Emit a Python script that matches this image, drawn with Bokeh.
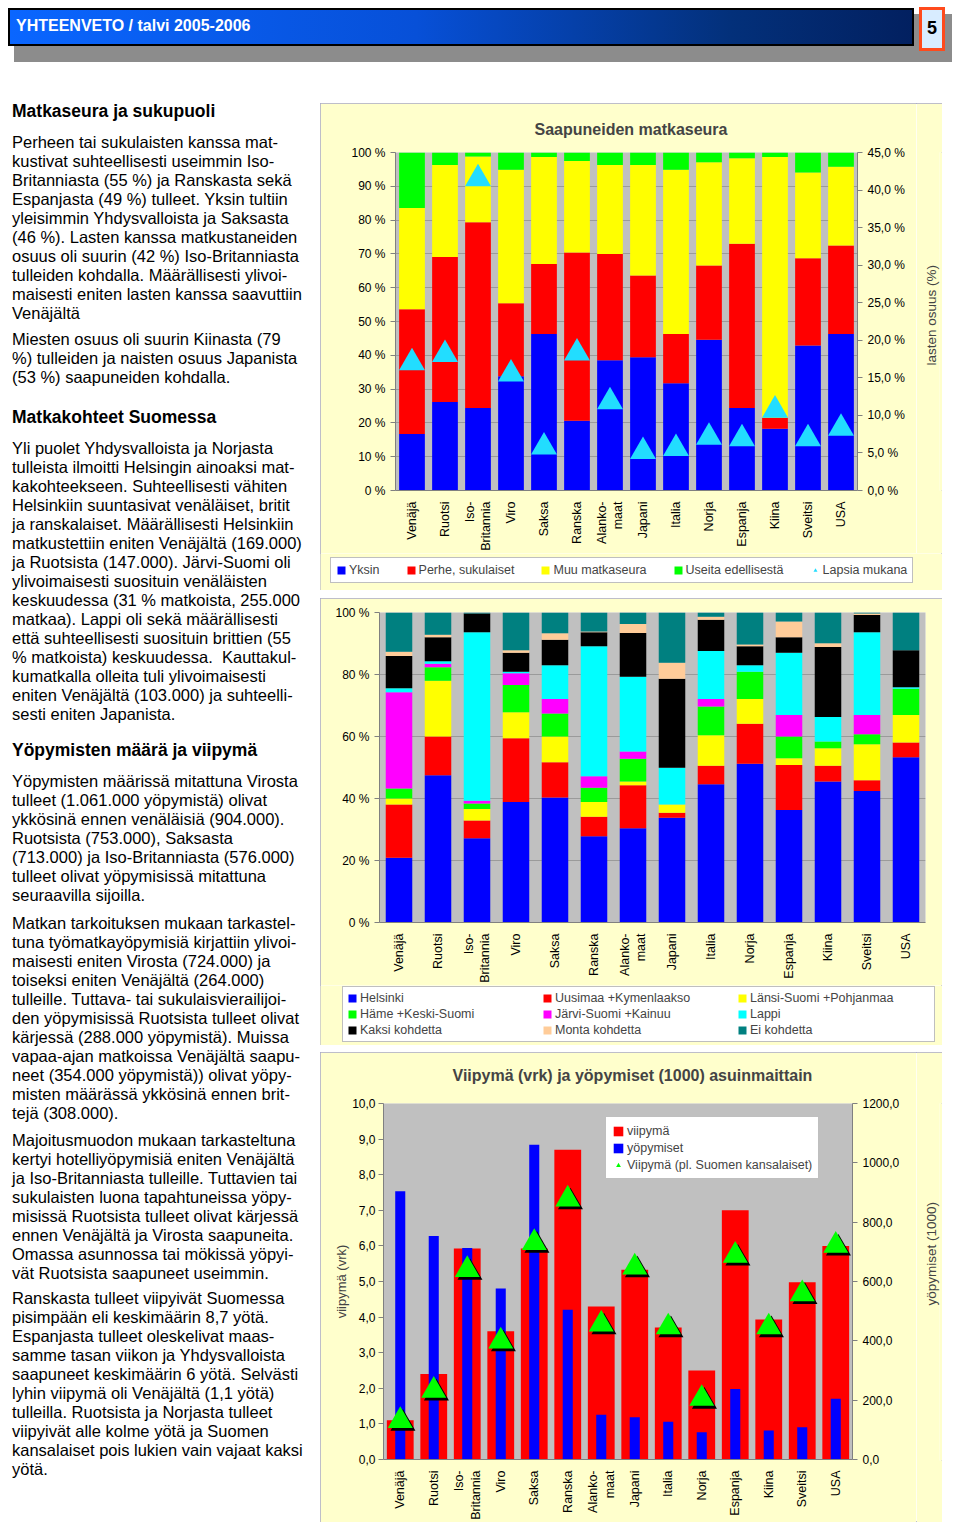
import math
from bokeh.plotting import figure
from bokeh.models import (Range1d, LinearAxis, FixedTicker, CustomJSTickFormatter,
                          Legend, LegendItem, Div, Spacer, ColumnDataSource, FactorRange, Title)
from bokeh.layouts import column, row
from bokeh.transform import dodge
from bokeh.embed import file_html
from bokeh.resources import INLINE

FONT = "Liberation Sans"

countries = ["Venäjä", "Ruotsi", "Iso-\nBritannia", "Viro", "Saksa", "Ranska",
             "Alanko-\nmaat", "Japani", "Italia", "Norja", "Espanja", "Kiina",
             "Sveitsi", "USA"]

# ---- Chart 1: Saapuneiden matkaseura (%) ----
c1_names = ["Yksin", "Perhe, sukulaiset", "Muu matkaseura", "Useita edellisestä"]
c1_yksin = [16.7, 26.2, 24.4, 33.8, 46.3, 20.6, 38.5, 39.4, 31.7, 44.6, 24.4, 18.3, 42.9, 46.3]
c1_perhe = [36.9, 42.9, 55.0, 21.6, 20.7, 49.8, 31.5, 24.2, 14.6, 22.0, 48.6, 3.2, 25.8, 26.2]
c1_muu = [30.0, 27.2, 19.4, 39.5, 31.7, 27.1, 26.3, 32.7, 48.6, 30.5, 25.3, 77.2, 25.4, 23.3]
c1_useita = [16.4, 3.7, 1.2, 5.1, 1.3, 2.5, 3.7, 3.7, 5.1, 2.9, 1.7, 1.3, 5.9, 4.2]
c1_lapsia = [17.0, 18.1, 41.5, 15.5, 5.8, 18.3, 11.8, 5.2, 5.6, 7.1, 6.9, 10.7, 6.9, 8.3]
c1_left_ticks = [0, 10, 20, 30, 40, 50, 60, 70, 80, 90, 100]
c1_right_ticks = [0, 5, 10, 15, 20, 25, 30, 35, 40, 45]

# ---- Chart 2: Matkakohteet (%) ----
c2_names = ["Helsinki", "Uusimaa +Kymenlaakso", "Länsi-Suomi +Pohjanmaa",
            "Häme +Keski-Suomi", "Järvi-Suomi +Kainuu", "Lappi",
            "Kaksi kohdetta", "Monta kohdetta", "Ei kohdetta"]
c2_helsinki = [20.9, 47.5, 27.2, 38.9, 40.3, 27.8, 30.4, 33.8, 44.6, 51.2, 36.3, 45.5, 42.4, 53.3]
c2_uusimaa = [17.2, 12.5, 5.7, 20.5, 11.4, 6.3, 13.9, 1.6, 6.0, 12.9, 14.5, 5.1, 3.5, 4.8]
c2_lansi = [1.9, 18.0, 3.7, 8.4, 8.3, 4.8, 1.2, 2.7, 9.8, 8.0, 2.2, 5.6, 11.6, 8.8]
c2_hame = [3.2, 4.3, 1.8, 8.8, 7.4, 4.6, 7.3, 0.0, 9.3, 8.8, 7.0, 2.2, 3.2, 8.5]
c2_jarvi = [31.1, 1.2, 0.9, 3.8, 4.7, 3.7, 2.4, 0.0, 2.4, 0.0, 6.9, 0.0, 6.2, 0.0]
c2_lappi = [1.3, 0.8, 54.3, 0.5, 10.9, 41.9, 24.1, 11.8, 15.5, 2.1, 20.1, 7.9, 26.7, 0.5]
c2_kaksi = [10.4, 7.7, 6.1, 6.1, 8.2, 4.5, 14.1, 28.7, 10.1, 6.1, 5.0, 22.6, 5.6, 11.9]
c2_monta = [1.3, 0.8, 0.0, 0.8, 2.1, 0.3, 2.9, 5.2, 0.9, 0.6, 5.1, 1.2, 0.5, 0.0]
c2_ei = [12.7, 7.2, 0.3, 12.2, 6.7, 6.1, 3.7, 16.2, 1.4, 10.3, 2.9, 9.9, 0.3, 12.2]
c2_ticks = [0, 20, 40, 60, 80, 100]

# ---- Chart 3: Viipymä (vrk) ja yöpymiset (1000) ----
c3_viipyma = [1.1, 2.4, 5.93, 3.6, 5.93, 8.7, 4.3, 5.33, 3.71, 2.5, 7.0, 3.93, 4.98, 6.0]
c3_yopymiset = [904, 753, 713, 576, 1061, 505, 151, 142, 127, 92, 238, 98, 109, 205]
c3_viipyma_pl = [1.09, 1.94, 5.33, 3.32, 6.09, 7.31, 3.80, 5.40, 3.72, 1.71, 5.73, 3.72, 4.65, 6.01]
c3_left_ticks = [0, 1, 2, 3, 4, 5, 6, 7, 8, 9, 10]
c3_right_ticks = [0, 200, 400, 600, 800, 1000, 1200]

C_BLUE, C_RED, C_YEL, C_GRN = "#0000FF", "#FF0000", "#FFFF00", "#00FF00"
C_MAG, C_CYAN, C_BLK, C_PEACH, C_TEAL = "#FF00FF", "#00FFFF", "#000000", "#FFCC99", "#008080"
C_TRI = "#22DDFF"
BG_BOX = "#FFFFCC"

BOX_STYLE = {"outline": "1px solid #A8A8C8", "outline-offset": "-1px"}


def pct_fmt():
    return CustomJSTickFormatter(code="return tick.toFixed(0) + ' %';")


def comma_fmt(suffix=""):
    return CustomJSTickFormatter(code="return tick.toFixed(1).replace('.', ',') + '%s';" % suffix)


def style_axis(ax, size="12px"):
    ax.major_label_text_font = FONT
    ax.major_label_text_font_size = size
    ax.major_label_text_color = "black"
    ax.axis_line_color = "#808080"
    ax.major_tick_line_color = "#808080"
    ax.minor_tick_line_color = None
    ax.major_tick_out = 5
    ax.major_tick_in = 0
    ax.axis_label_text_font = FONT
    ax.axis_label_text_font_size = "13.5px"
    ax.axis_label_text_font_style = "normal"


def base_fig(width, height, mbl, mbr, mbt, mbb, y_range, styles=None):
    kw = dict(styles=styles) if styles else {}
    p = figure(width=width, height=height, x_range=FactorRange(factors=countries),
               y_range=y_range, output_backend="svg", toolbar_location=None,
               min_border_left=mbl, min_border_right=mbr, min_border_top=mbt,
               min_border_bottom=mbb, **kw)
    p.frame_align = False
    p.background_fill_color = "#C0C0C0"
    p.border_fill_color = BG_BOX
    p.outline_line_color = None
    p.xgrid.visible = False
    xa = p.xaxis[0]
    style_axis(xa, "12.5px")
    xa.major_label_orientation = math.pi / 2
    xa.major_tick_line_color = None
    xa.major_label_standoff = 6
    style_axis(p.yaxis[0], "12px")
    return p


def legend_fig(width, height):
    # a strip below a chart that only carries that chart's legend
    f = figure(width=width, height=height, x_range=FactorRange(factors=countries),
               y_range=Range1d(0, 1), output_backend="svg", toolbar_location=None,
               x_axis_type=None, y_axis_type=None, min_border=0)
    f.frame_align = False
    f.background_fill_color = BG_BOX
    f.border_fill_color = BG_BOX
    f.outline_line_color = None
    f.grid.visible = False
    return f


def label_strip(height, mbt, mbb, text, offset):
    # narrow strip right of a chart carrying the secondary-axis title (reads bottom-to-top)
    f = figure(width=26, height=height, x_range=Range1d(0, 1), y_range=Range1d(0, 1),
               output_backend="svg", toolbar_location=None, x_axis_type=None,
               y_axis_type=None, min_border_left=23, min_border_right=0,
               min_border_top=mbt, min_border_bottom=mbb, title_location="left")
    f.frame_align = False
    f.background_fill_color = BG_BOX
    f.border_fill_color = BG_BOX
    f.outline_line_color = None
    f.grid.visible = False
    f.title.text = text
    f.title.align = "left"
    f.title.offset = offset
    f.title.standoff = 2
    f.title.text_font = FONT
    f.title.text_font_size = "13.5px"
    f.title.text_font_style = "normal"
    return f


def add_title(p, text, spacer_standoff, offset):
    p.title.text = text
    p.title.align = "left"
    p.title.offset = offset
    p.title.standoff = 2
    p.title.text_font = FONT
    p.title.text_font_size = "16px"
    p.title.text_font_style = "bold"
    p.add_layout(Title(text=" ", text_font_size="6px", standoff=spacer_standoff), "above")


def style_legend(leg, fs="12.5px"):
    leg.background_fill_color = "white"
    leg.background_fill_alpha = 1
    leg.border_line_color = "#808080"
    leg.border_line_width = 1
    leg.label_text_font = FONT
    leg.label_text_font_size = fs
    leg.glyph_width = 10
    leg.glyph_height = 10
    leg.label_standoff = 3
    leg.margin = 0


# ================= Chart 1 =================
src1 = ColumnDataSource(dict(cat=countries, yksin=c1_yksin, perhe=c1_perhe, muu=c1_muu,
                             useita=c1_useita, lapsia=c1_lapsia))
p1 = base_fig(596, 450, 75, 59, 49, 63, Range1d(0, 100))
p1.yaxis[0].ticker = FixedTicker(ticks=c1_left_ticks)
p1.yaxis[0].formatter = pct_fmt()
p1.ygrid.ticker = FixedTicker(ticks=c1_left_ticks)
p1.ygrid.grid_line_color = "#9A9A9A"
add_title(p1, "Saapuneiden matkaseura", 6, 139)

c1_cols = ["yksin", "perhe", "muu", "useita"]
c1_colors = [C_BLUE, C_RED, C_YEL, C_GRN]
p1.vbar_stack(c1_cols, x="cat", width=0.78, fill_color=c1_colors, line_color=None, source=src1)
p1.extra_y_ranges = {"lap": Range1d(0, 45)}
p1.scatter(x="cat", y="lapsia", y_range_name="lap", marker="triangle", size=26,
           fill_color=C_TRI, line_color=None, source=src1)
rax1 = LinearAxis(y_range_name="lap", ticker=FixedTicker(ticks=c1_right_ticks),
                  formatter=comma_fmt(" %"))
style_axis(rax1, "12px")
p1.add_layout(rax1, "right")
s1 = label_strip(450, 49, 63, "lasten osuus (%)", 125)

L1 = legend_fig(622, 37)
lr1 = L1.vbar_stack(c1_cols, x="cat", width=0.78, fill_color=c1_colors, line_color=None,
                    source=src1, visible=False)
lt1 = L1.scatter(x="cat", y="lapsia", marker="triangle", size=26, fill_color=C_TRI,
                 line_color=None, source=src1, visible=False)
leg1 = Legend(items=[LegendItem(label=n, renderers=[r]) for n, r in zip(c1_names, lr1)]
              + [LegendItem(label="Lapsia mukana", renderers=[lt1])],
              location=(10, 7), orientation="horizontal")
style_legend(leg1)
leg1.padding = 5
leg1.spacing = 26
leg1.label_height = 13
L1.add_layout(leg1)
box1 = column(row(p1, s1), L1, styles=BOX_STYLE)

# ================= Chart 2 =================
src2 = ColumnDataSource(dict(cat=countries, helsinki=c2_helsinki, uusimaa=c2_uusimaa,
                             lansi=c2_lansi, hame=c2_hame, jarvi=c2_jarvi, lappi=c2_lappi,
                             kaksi=c2_kaksi, monta=c2_monta, ei=c2_ei))
p2 = base_fig(622, 387, 59, 17, 14, 60, Range1d(0, 100))
p2.yaxis[0].ticker = FixedTicker(ticks=c2_ticks)
p2.yaxis[0].formatter = pct_fmt()
p2.ygrid.ticker = FixedTicker(ticks=c2_ticks)
p2.ygrid.grid_line_color = "#9A9A9A"
c2_cols = ["helsinki", "uusimaa", "lansi", "hame", "jarvi", "lappi", "kaksi", "monta", "ei"]
c2_colors = [C_BLUE, C_RED, C_YEL, C_GRN, C_MAG, C_CYAN, C_BLK, C_PEACH, C_TEAL]
p2.vbar_stack(c2_cols, x="cat", width=0.68, fill_color=c2_colors, line_color=None, source=src2)

L2 = legend_fig(622, 60)
lr2 = L2.vbar_stack(c2_cols, x="cat", width=0.68, fill_color=c2_colors, line_color=None,
                    source=src2, visible=False)
leg2 = Legend(items=[LegendItem(label=n, renderers=[r]) for n, r in zip(c2_names, lr2)],
              location=(22, 3), orientation="horizontal", ncols=3)
style_legend(leg2, "12.5px")
leg2.padding = 4
leg2.spacing = 2
leg2.label_height = 14
leg2.label_width = 180
L2.add_layout(leg2)
box2 = column(p2, L2, styles=BOX_STYLE)

# ================= Chart 3 =================
src3 = ColumnDataSource(dict(cat=countries, viipyma=c3_viipyma, yop=c3_yopymiset,
                             vpl=c3_viipyma_pl))
p3 = base_fig(596, 470, 63, 64, 51, 62, Range1d(0, 10))
p3.yaxis[0].ticker = FixedTicker(ticks=c3_left_ticks)
p3.yaxis[0].formatter = comma_fmt()
p3.yaxis[0].axis_label = "viipymä (vrk)"
p3.yaxis[0].axis_label_text_font_size = "13px"
p3.yaxis[0].axis_label_standoff = 0
p3.yaxis[0].major_label_standoff = 3
p3.ygrid.visible = False
add_title(p3, "Viipymä (vrk) ja yöpymiset (1000) asuinmaittain", 11, 69)

r_red = p3.vbar(x="cat", top="viipyma", width=0.8, fill_color=C_RED, line_color=None, source=src3)
p3.extra_y_ranges = {"yop": Range1d(0, 1200)}
r_blue = p3.vbar(x="cat", top="yop", width=0.3, y_range_name="yop", fill_color=C_BLUE,
                 line_color=None, source=src3)
p3.scatter(x=dodge("cat", 0.08, range=p3.x_range), y=dodge("vpl", -0.08), marker="triangle",
           size=25, fill_color="black", line_color=None, source=src3)
r_tri = p3.scatter(x="cat", y="vpl", marker="triangle", size=25, fill_color=C_GRN,
                   line_color=None, source=src3)
rax3 = LinearAxis(y_range_name="yop", ticker=FixedTicker(ticks=c3_right_ticks),
                  formatter=comma_fmt())
style_axis(rax3, "12px")
p3.add_layout(rax3, "right")
leg3 = Legend(items=[LegendItem(label="viipymä", renderers=[r_red]),
                     LegendItem(label="yöpymiset", renderers=[r_blue]),
                     LegendItem(label="Viipymä (pl. Suomen kansalaiset)", renderers=[r_tri])],
              location=(222, 280), orientation="vertical")
style_legend(leg3)
leg3.glyph_width = 12
leg3.glyph_height = 12
leg3.padding = 6
leg3.spacing = 2
leg3.label_height = 15
p3.add_layout(leg3)
s3 = label_strip(470, 51, 62, "yöpymiset (1000)", 155)
box3 = row(p3, s3, styles=BOX_STYLE)

# ================= Header =================
header_html = (
    '<div style="position:relative;width:944px;height:90px;font-family:\'Liberation Sans\',Arial,sans-serif;">'
    '<div style="position:absolute;left:9px;top:9px;width:938px;height:48px;background:#8c8c8c;"></div>'
    '<div style="position:absolute;left:3px;top:3px;width:906px;height:38px;'
    'background:linear-gradient(to right,#0a66ff 0%,#0750d8 45%,#03307a 80%,#022060 100%);'
    'border:2px solid #000;"></div>'
    '<div style="position:absolute;left:11px;top:11px;color:#fff;font-weight:bold;font-size:16px;'
    'line-height:20px;white-space:nowrap;">YHTEENVETO / talvi 2005-2006</div>'
    '<div style="position:absolute;left:914px;top:2px;width:26px;height:44px;background:#d8ecff;'
    'border:3px solid #ff4a1c;text-align:center;font-weight:bold;font-size:18px;line-height:36px;'
    'color:#000;">5</div>'
    '</div>'
)
header = Div(text=header_html, width=944, height=90, styles={"overflow": "visible"})

# ================= Left text column =================
TOP0 = 105
blocks = [
    ("h", 111, ["Matkaseura ja sukupuoli"]),
    ("p", 142, ["Perheen tai sukulaisten kanssa mat-",
                "kustivat suhteellisesti useimmin Iso-",
                "Britanniasta (55 %) ja Ranskasta sekä",
                "Espanjasta (49 %) tulleet. Yksin tultiin",
                "yleisimmin Yhdysvalloista ja Saksasta",
                "(46 %). Lasten kanssa matkustaneiden",
                "osuus oli suurin (42 %) Iso-Britanniasta",
                "tulleiden kohdalla. Määrällisesti ylivoi-",
                "maisesti eniten lasten kanssa saavuttiin",
                "Venäjältä"]),
    ("p", 339, ["Miesten osuus oli suurin Kiinasta (79",
                "%) tulleiden ja naisten osuus Japanista",
                "(53 %) saapuneiden kohdalla."]),
    ("h", 417, ["Matkakohteet Suomessa"]),
    ("p", 448, ["Yli puolet Yhdysvalloista ja Norjasta",
                "tulleista ilmoitti Helsingin ainoaksi mat-",
                "kakohteekseen. Suhteellisesti vähiten",
                "Helsinkiin suuntasivat venäläiset, britit",
                "ja ranskalaiset. Määrällisesti Helsinkiin",
                "matkustettiin eniten Venäjältä (169.000)",
                "ja Ruotsista (147.000). Järvi-Suomi oli",
                "ylivoimaisesti suosituin venäläisten",
                "keskuudessa (31 % matkoista, 255.000",
                "matkaa). Lappi oli sekä määrällisesti",
                "että suhteellisesti suosituin brittien (55",
                "% matkoista) keskuudessa.&nbsp; Kauttakul-",
                "kumatkalla olleita tuli ylivoimaisesti",
                "eniten Venäjältä (103.000) ja suhteelli-",
                "sesti eniten Japanista."]),
    ("h", 750, ["Yöpymisten määrä ja viipymä"]),
    ("p", 781, ["Yöpymisten määrissä mitattuna Virosta",
                "tulleet (1.061.000 yöpymistä) olivat",
                "ykkösinä ennen venäläisiä (904.000).",
                "Ruotsista (753.000), Saksasta",
                "(713.000) ja Iso-Britanniasta (576.000)",
                "tulleet olivat yöpymisissä mitattuna",
                "seuraavilla sijoilla."]),
    ("p", 923, ["Matkan tarkoituksen mukaan tarkastel-",
                "tuna työmatkayöpymisiä kirjattiin ylivoi-",
                "maisesti eniten Virosta (724.000) ja",
                "toiseksi eniten Venäjältä (264.000)",
                "tulleille. Tuttava- tai sukulaisvierailijoi-",
                "den yöpymisissä Ruotsista tulleet olivat",
                "kärjessä (288.000 yöpymistä). Muissa",
                "vapaa-ajan matkoissa Venäjältä saapu-",
                "neet (354.000 yöpymistä)) olivat yöpy-",
                "misten määrässä ykkösinä ennen brit-",
                "tejä (308.000)."]),
    ("p", 1140, ["Majoitusmuodon mukaan tarkasteltuna",
                 "kertyi hotelliyöpymisiä eniten Venäjältä",
                 "ja Iso-Britanniasta tulleille. Tuttavien tai",
                 "sukulaisten luona tapahtuneissa yöpy-",
                 "misissä Ruotsista tulleet olivat kärjessä",
                 "ennen Venäjältä ja Virosta saapuneita.",
                 "Omassa asunnossa tai mökissä yöpyi-",
                 "vät Ruotsista saapuneet useimmin."]),
    ("p", 1298, ["Ranskasta tulleet viipyivät Suomessa",
                 "pisimpään eli keskimäärin 8,7 yötä.",
                 "Espanjasta tulleet oleskelivat maas-",
                 "samme tasan viikon ja Yhdysvalloista",
                 "saapuneet keskimäärin 6 yötä. Selvästi",
                 "lyhin viipymä oli Venäjältä (1,1 yötä)",
                 "tulleilla. Ruotsista ja Norjasta tulleet",
                 "viipyivät alle kolme yötä ja Suomen",
                 "kansalaiset pois lukien vain vajaat kaksi",
                 "yötä."]),
]
parts = ['<div style="position:relative;width:310px;height:1424px;color:#000;'
         'font-family:\'Liberation Sans\',Arial,sans-serif;">']
for kind, y0, lines in blocks:
    for i, ln in enumerate(lines):
        yc = y0 + 19 * i
        top = yc - TOP0 - 10
        fs = "17.5px" if kind == "h" else "16.5px"
        fw = "bold" if kind == "h" else "normal"
        parts.append('<div style="position:absolute;left:7px;top:%dpx;height:20px;line-height:20px;'
                     'font-size:%s;font-weight:%s;white-space:nowrap;">%s</div>' % (top, fs, fw, ln))
parts.append('</div>')
text_div = Div(text="".join(parts), width=310, height=1424, styles={"overflow": "visible"})

charts = column(Spacer(width=622, height=3), box1, Spacer(width=622, height=8), box2,
                Spacer(width=622, height=7), box3)
layout = column(header, row(text_div, charts))

open("out.html", "w").write(file_html(layout, INLINE))
